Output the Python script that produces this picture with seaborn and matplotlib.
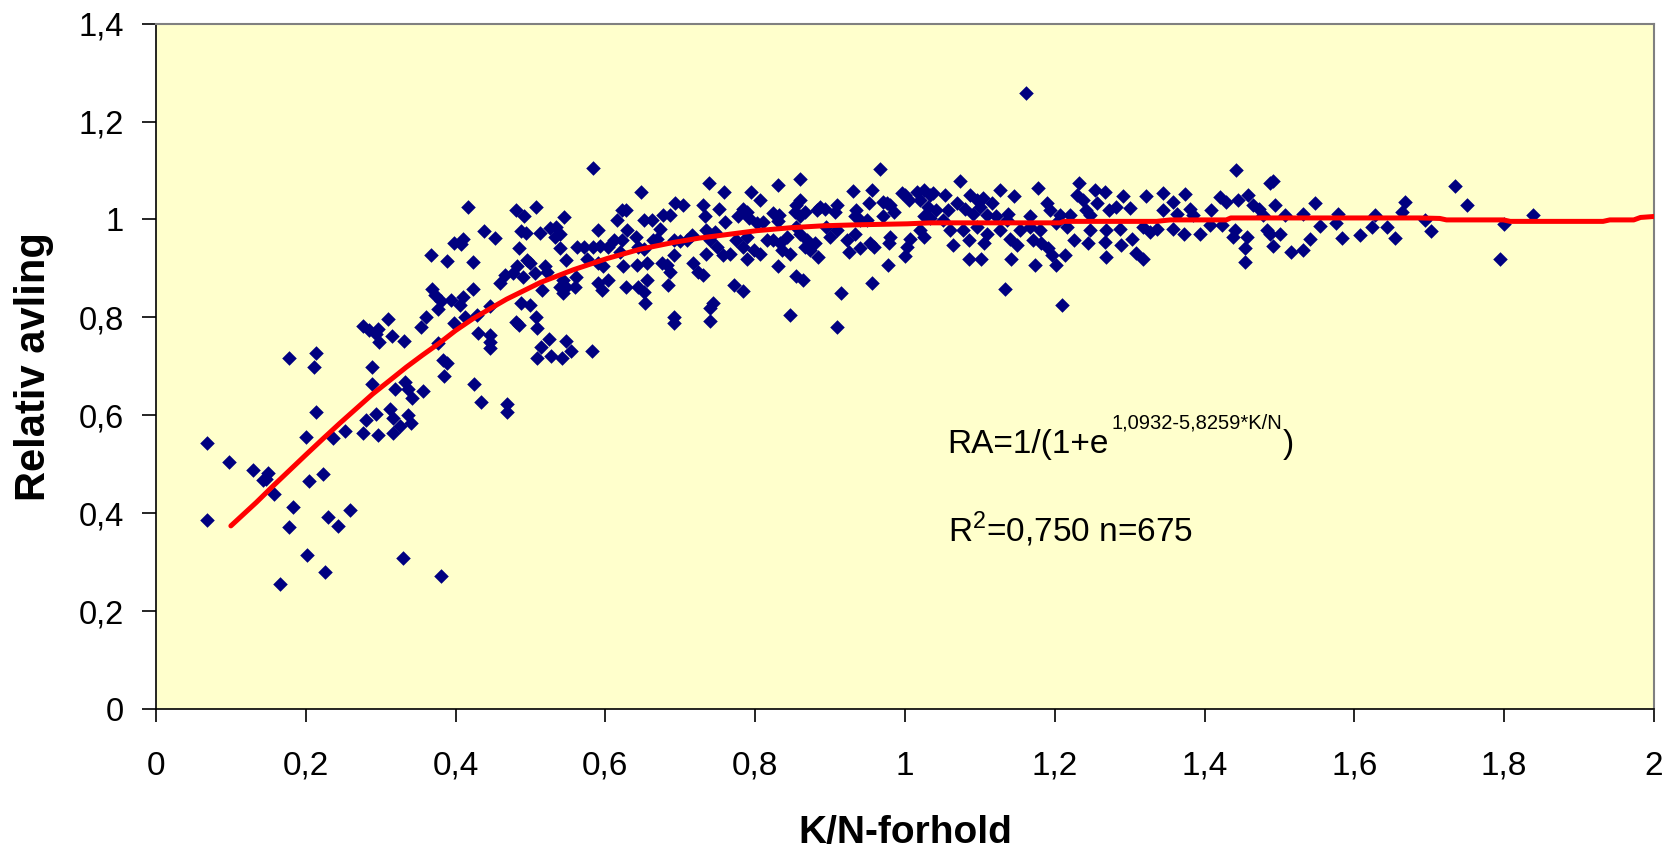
import pandas as pd
import numpy as np
import matplotlib
matplotlib.use('Agg')
import matplotlib.pyplot as plt
import seaborn as sns

# points, grouped by K/N range
points_low = [
    (0.068, 0.544), (0.068, 0.386), (0.098, 0.505), (0.130, 0.488), (0.149, 0.481),
    (0.143, 0.467), (0.147, 0.470), (0.158, 0.439), (0.165, 0.255), (0.177, 0.716),
    (0.183, 0.413), (0.178, 0.371), (0.202, 0.315), (0.204, 0.466), (0.200, 0.555),
    (0.214, 0.727), (0.211, 0.698), (0.214, 0.607), (0.223, 0.480), (0.225, 0.280),
    (0.230, 0.392), (0.243, 0.374), (0.236, 0.554), (0.252, 0.568), (0.259, 0.406),
    (0.276, 0.564), (0.280, 0.590), (0.294, 0.603), (0.296, 0.560), (0.312, 0.613),
    (0.317, 0.594), (0.317, 0.564), (0.326, 0.578), (0.336, 0.600), (0.340, 0.585),
    (0.289, 0.699), (0.289, 0.663), (0.319, 0.653), (0.333, 0.668), (0.337, 0.653),
    (0.342, 0.635), (0.356, 0.650), (0.330, 0.308), (0.381, 0.272), (0.276, 0.783),
    (0.285, 0.774), (0.294, 0.766), (0.297, 0.776), (0.310, 0.797), (0.315, 0.762),
    (0.331, 0.751), (0.298, 0.749), (0.354, 0.780), (0.360, 0.800), (0.367, 0.927),
    (0.388, 0.916), (0.398, 0.951), (0.369, 0.857), (0.373, 0.845), (0.380, 0.834),
    (0.377, 0.818), (0.394, 0.836), (0.398, 0.788), (0.377, 0.748), (0.383, 0.713),
    (0.389, 0.706), (0.385, 0.681),
]

points_rise = [
    (0.584, 1.106), (0.648, 1.057), (0.416, 1.025), (0.481, 1.019), (0.508, 1.025),
    (0.492, 1.008), (0.545, 1.005), (0.438, 0.977), (0.453, 0.962), (0.410, 0.960),
    (0.407, 0.950), (0.485, 0.942), (0.487, 0.977), (0.494, 0.972), (0.513, 0.972),
    (0.526, 0.982), (0.534, 0.984), (0.533, 0.965), (0.539, 0.971), (0.539, 0.942),
    (0.423, 0.913), (0.547, 0.917), (0.590, 0.979), (0.615, 0.999), (0.622, 1.019),
    (0.628, 1.019), (0.629, 0.979), (0.641, 0.965), (0.652, 0.998), (0.662, 0.999),
    (0.673, 0.980), (0.677, 1.010), (0.686, 1.009), (0.693, 1.033), (0.704, 1.029),
    (0.715, 0.968), (0.562, 0.944), (0.571, 0.943), (0.584, 0.944), (0.593, 0.945),
    (0.611, 0.958), (0.622, 0.958), (0.604, 0.943), (0.620, 0.934), (0.644, 0.943),
    (0.651, 0.940), (0.664, 0.958), (0.669, 0.961), (0.691, 0.958), (0.700, 0.955),
    (0.709, 0.958), (0.575, 0.920), (0.590, 0.910), (0.597, 0.904), (0.624, 0.904),
    (0.642, 0.907), (0.655, 0.910), (0.675, 0.910), (0.682, 0.907), (0.691, 0.927),
    (0.717, 0.910), (0.724, 0.893), (0.686, 0.893), (0.684, 0.867), (0.655, 0.876),
    (0.644, 0.862), (0.651, 0.852), (0.653, 0.829), (0.628, 0.862), (0.604, 0.876),
    (0.590, 0.871), (0.595, 0.856), (0.544, 0.876), (0.548, 0.862), (0.539, 0.862),
    (0.544, 0.850), (0.559, 0.862), (0.561, 0.883), (0.520, 0.904), (0.522, 0.893),
    (0.506, 0.890), (0.500, 0.910), (0.495, 0.918), (0.482, 0.904), (0.477, 0.890),
    (0.466, 0.887), (0.459, 0.870), (0.490, 0.883), (0.515, 0.856), (0.423, 0.858),
    (0.410, 0.842), (0.406, 0.825), (0.446, 0.824), (0.488, 0.830), (0.499, 0.825),
    (0.413, 0.801), (0.428, 0.804), (0.430, 0.769), (0.446, 0.764), (0.446, 0.750),
    (0.446, 0.737), (0.481, 0.791), (0.485, 0.784), (0.508, 0.801), (0.509, 0.778),
    (0.514, 0.740), (0.525, 0.755), (0.509, 0.716), (0.528, 0.720), (0.542, 0.716),
    (0.547, 0.752), (0.554, 0.731), (0.582, 0.731), (0.424, 0.663), (0.434, 0.627),
    (0.468, 0.622), (0.468, 0.607), (0.691, 0.801), (0.691, 0.788),
]

points_knee = [
    (0.966, 1.103), (0.738, 1.075), (0.831, 1.071), (0.860, 1.082), (0.758, 1.055),
    (0.795, 1.055), (0.807, 1.040), (0.931, 1.058), (0.956, 1.060), (0.731, 1.029),
    (0.752, 1.022), (0.733, 1.007), (0.784, 1.022), (0.789, 1.016), (0.777, 1.006),
    (0.792, 1.002), (0.760, 0.995), (0.802, 0.992), (0.811, 0.995), (0.824, 1.013),
    (0.832, 1.010), (0.830, 0.996), (0.860, 1.040), (0.855, 1.029), (0.853, 1.016),
    (0.860, 1.006), (0.867, 1.016), (0.882, 1.019), (0.887, 1.026), (0.893, 1.022),
    (0.909, 1.029), (0.907, 1.016), (0.935, 1.019), (0.933, 1.006), (0.940, 0.999),
    (0.952, 1.034), (0.949, 0.999), (0.971, 1.036), (0.976, 1.033), (0.980, 1.029),
    (0.985, 1.016), (0.971, 1.006), (0.996, 1.053), (1.000, 1.050), (1.005, 1.040),
    (1.016, 1.056), (1.025, 1.060), (1.033, 1.050), (1.038, 1.053), (1.020, 1.040),
    (1.031, 1.026), (1.042, 1.019), (1.025, 1.006), (1.033, 1.002), (1.020, 0.978),
    (1.025, 0.964), (1.007, 0.961), (1.003, 0.943), (1.000, 0.926), (0.735, 0.978),
    (0.746, 0.974), (0.740, 0.957), (0.749, 0.944), (0.735, 0.930), (0.757, 0.927),
    (0.766, 0.930), (0.775, 0.957), (0.789, 0.964), (0.784, 0.944), (0.789, 0.920),
    (0.798, 0.937), (0.807, 0.930), (0.816, 0.957), (0.824, 0.957), (0.836, 0.937),
    (0.847, 0.930), (0.833, 0.951), (0.842, 0.964), (0.855, 0.985), (0.860, 0.971),
    (0.869, 0.957), (0.867, 0.944), (0.873, 0.937), (0.880, 0.951), (0.884, 0.924),
    (0.895, 0.985), (0.900, 0.964), (0.909, 0.978), (0.922, 0.957), (0.925, 0.934),
    (0.940, 0.942), (0.933, 0.971), (0.953, 0.951), (0.958, 0.944), (0.980, 0.964),
    (0.978, 0.951), (0.731, 0.886), (0.831, 0.904), (0.855, 0.884), (0.864, 0.877),
    (0.772, 0.867), (0.784, 0.853), (0.744, 0.829), (0.740, 0.819), (0.740, 0.793),
    (0.847, 0.805), (0.909, 0.780), (0.915, 0.850), (0.956, 0.871), (0.977, 0.906),
]

points_plateau = [
    (1.073, 1.078), (1.127, 1.061), (1.177, 1.064), (1.232, 1.075), (1.254, 1.061),
    (1.267, 1.055), (1.145, 1.047), (1.053, 1.050), (1.069, 1.033), (1.087, 1.050),
    (1.096, 1.040), (1.104, 1.043), (1.116, 1.033), (1.100, 1.026), (1.080, 1.022),
    (1.058, 1.019), (1.051, 0.999), (1.091, 1.012), (1.109, 1.009), (1.138, 1.012),
    (1.122, 1.006), (1.136, 0.999), (1.167, 1.006), (1.189, 1.033), (1.193, 1.019),
    (1.207, 1.009), (1.202, 0.992), (1.220, 1.009), (1.229, 1.050), (1.238, 1.040),
    (1.242, 1.019), (1.247, 1.009), (1.256, 1.033), (1.273, 1.019), (1.282, 1.026),
    (1.291, 1.047), (1.300, 1.023), (1.322, 1.047), (1.345, 1.053), (1.358, 1.036),
    (1.345, 1.019), (1.363, 1.012), (1.060, 0.978), (1.078, 0.978), (1.096, 0.985),
    (1.109, 0.971), (1.127, 0.978), (1.153, 0.978), (1.167, 0.985), (1.180, 0.978),
    (1.216, 0.985), (1.247, 0.978), (1.269, 0.978), (1.287, 0.981), (1.318, 0.985),
    (1.336, 0.981), (1.358, 0.981), (1.064, 0.947), (1.085, 0.957), (1.105, 0.951),
    (1.140, 0.961), (1.149, 0.947), (1.171, 0.957), (1.182, 0.951), (1.191, 0.941),
    (1.225, 0.957), (1.245, 0.951), (1.267, 0.954), (1.289, 0.947), (1.303, 0.961),
    (1.327, 0.974), (1.085, 0.920), (1.101, 0.920), (1.142, 0.920), (1.196, 0.927),
    (1.202, 0.907), (1.213, 0.927), (1.269, 0.924), (1.309, 0.931), (1.318, 0.920),
    (1.174, 0.906), (1.133, 0.857), (1.209, 0.825), (1.161, 1.258),
]

points_tail = [
    (1.442, 1.100), (1.491, 1.079), (1.487, 1.074), (1.374, 1.052), (1.420, 1.046),
    (1.429, 1.036), (1.445, 1.039), (1.458, 1.049), (1.465, 1.029), (1.472, 1.022),
    (1.494, 1.029), (1.547, 1.034), (1.409, 1.019), (1.381, 1.022), (1.385, 1.009),
    (1.668, 1.036), (1.663, 1.016), (1.478, 1.009), (1.507, 1.009), (1.531, 1.012),
    (1.578, 1.012), (1.627, 1.009), (1.372, 0.971), (1.394, 0.971), (1.407, 0.988),
    (1.423, 0.988), (1.441, 0.978), (1.483, 0.978), (1.501, 0.971), (1.554, 0.986),
    (1.576, 0.992), (1.623, 0.985), (1.643, 0.984), (1.438, 0.964), (1.456, 0.965),
    (1.487, 0.971), (1.492, 0.946), (1.541, 0.959), (1.584, 0.962), (1.608, 0.969),
    (1.654, 0.962), (1.454, 0.941), (1.454, 0.914), (1.515, 0.934), (1.532, 0.937),
    (1.734, 1.068), (1.750, 1.029), (1.694, 0.999), (1.702, 0.977), (1.800, 0.990),
    (1.794, 0.920), (1.838, 1.009),
]

# fitted curve as drawn (red line)
fit_kn = [0.100, 0.134, 0.156, 0.178, 0.200, 0.223, 0.245, 0.267, 0.289, 0.312,
          0.334, 0.356, 0.378, 0.400, 0.424, 0.468, 0.513, 0.557, 0.602, 0.646,
          0.691, 0.726, 0.757, 0.802, 0.847, 0.891, 0.936, 1.003, 1.033, 1.207,
          1.212, 1.336, 1.354, 1.429, 1.435, 1.687, 1.714, 1.723, 1.799, 1.808,
          1.932, 1.941, 1.973, 1.982, 2.000]
fit_ra = [0.374, 0.422, 0.455, 0.487, 0.519, 0.552, 0.583, 0.613, 0.643, 0.671,
          0.698, 0.723, 0.747, 0.773, 0.798, 0.837, 0.871, 0.897, 0.920, 0.939,
          0.953, 0.962, 0.968, 0.977, 0.983, 0.987, 0.989, 0.991, 0.993, 0.993,
          0.996, 0.996, 0.999, 0.999, 1.003, 1.003, 1.002, 0.999, 0.999, 0.996,
          0.996, 0.999, 0.999, 1.004, 1.006]

x_ticks = [0, 0.2, 0.4, 0.6, 0.8, 1, 1.2, 1.4, 1.6, 1.8, 2]
y_ticks = [0, 0.2, 0.4, 0.6, 0.8, 1, 1.2, 1.4]

all_pts = points_low + points_rise + points_knee + points_plateau + points_tail
df = pd.DataFrame(all_pts, columns=['kn', 'ra'])
fit = pd.DataFrame({'kn': fit_kn, 'ra': fit_ra})

sns.set_style('white')
plt.rcParams['font.family'] = ['Liberation Sans', 'DejaVu Sans']
plt.rcParams['mathtext.fontset'] = 'custom'
plt.rcParams['mathtext.rm'] = 'Liberation Sans'
plt.rcParams['text.color'] = 'black'
plt.rcParams['axes.labelcolor'] = 'black'
plt.rcParams['xtick.color'] = 'black'
plt.rcParams['ytick.color'] = 'black'

fig = plt.figure(figsize=(16.79, 8.55), dpi=100)
ax = fig.add_axes([0.0929, 0.1708, 0.8922, 0.8016])
ax.set_facecolor('#FFFFCC')

sns.scatterplot(data=df, x='kn', y='ra', marker='D', color='#000080',
                s=55, linewidth=0, ax=ax, zorder=2)
sns.lineplot(data=fit, x='kn', y='ra', sort=False, color='#FF0000',
             linewidth=3.6, ax=ax, zorder=3)

ax.set_xlim(0, 2)
ax.set_ylim(0, 1.4)
ax.set_xticks(x_ticks)
ax.set_yticks(y_ticks)
fmt = lambda v: ('%g' % v).replace('.', ',')
ax.set_xticklabels([fmt(v) for v in x_ticks], fontsize=24)
ax.set_yticklabels([fmt(v) for v in y_ticks], fontsize=23.5)
ax.tick_params(axis='x', bottom=True, direction='out', length=9, width=1.2, pad=21)
ax.tick_params(axis='y', left=True, direction='out', length=10, width=1.2, pad=13)

ax.set_xlabel('K/N-forhold', fontsize=28, fontweight='bold', labelpad=24)
ax.set_ylabel('Relativ avling', fontsize=30, fontweight='bold', labelpad=18)

for side in ['left', 'bottom']:
    ax.spines[side].set_color('black')
    ax.spines[side].set_linewidth(1.2)
for side in ['top', 'right']:
    ax.spines[side].set_color('#808080')
    ax.spines[side].set_linewidth(1.5)

t1 = ax.text(1.057, 0.523, 'RA=1/(1+e', fontsize=24, va='baseline')
sup = ax.annotate('1,0932-5,8259*K/N', xy=(1, 0.572), xycoords=(t1, 'data'),
                  xytext=(1.5, 0), textcoords='offset points',
                  fontsize=14.5, va='baseline', ha='left')
ax.annotate(')', xy=(1, 0.523), xycoords=(sup, 'data'), xytext=(0.5, 0),
            textcoords='offset points', fontsize=24, va='baseline', ha='left')
ax.text(1.057, 0.342, r'R$^{\mathregular{2}}$=0,750 n=675', fontsize=24, va='baseline')

fig.savefig('out.png', dpi=100, facecolor='white')
